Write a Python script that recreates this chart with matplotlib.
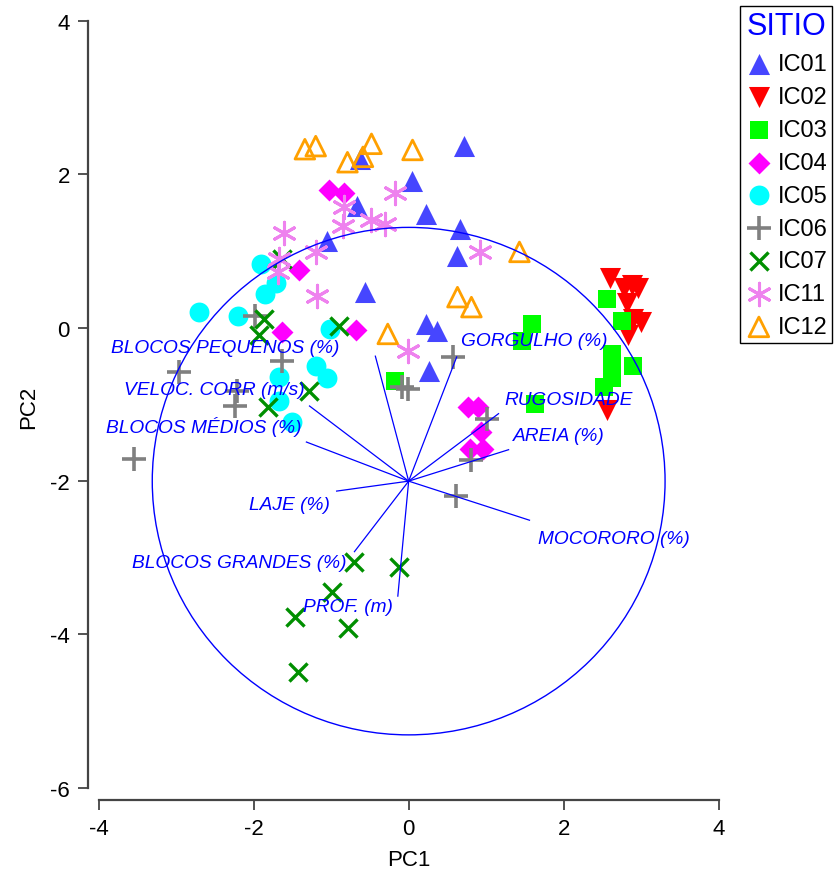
import matplotlib.pyplot as plt
from matplotlib.patches import Circle

plt.rcParams['font.family'] = ['Liberation Sans', 'DejaVu Sans']
plt.rcParams['axes.unicode_minus'] = False

# site scores (PC1, PC2)
ic01_x = [0.72, -0.63, 0.04, -0.67, 0.23, 0.66, -1.06, 0.62, -0.57, 0.23, 0.36, 0.26]
ic01_y = [2.37, 2.20, 1.92, 1.59, 1.49, 1.29, 1.13, 0.94, 0.47, 0.05, -0.04, -0.56]
ic02_x = [2.60, 2.78, 2.88, 2.96, 2.82, 2.89, 3.00, 2.83, 2.56]
ic02_y = [0.65, 0.52, 0.56, 0.52, 0.33, 0.12, 0.07, -0.10, -1.07]
ic03_x = [2.56, 2.76, 1.59, 1.46, 2.62, 2.62, 2.89, 2.62, 2.52, 1.63, -0.17]
ic03_y = [0.38, 0.09, 0.05, -0.17, -0.34, -0.47, -0.50, -0.66, -0.77, -1.00, -0.70]
ic04_x = [-1.03, -0.84, -1.41, -1.64, -0.68, 0.76, 0.89, 0.93, 0.79, 0.96]
ic04_y = [1.80, 1.76, 0.76, -0.05, -0.03, -1.03, -1.03, -1.36, -1.58, -1.58]
ic05_x = [-1.91, -1.71, -1.85, -2.71, -2.20, -1.02, -1.20, -1.06, -1.68, -1.68, -1.50]
ic05_y = [0.83, 0.59, 0.44, 0.21, 0.16, -0.01, -0.50, -0.66, -0.64, -0.95, -1.23]
ic06_x = [-1.98, -1.63, -2.97, -2.21, -2.24, -3.55, 0.57, -0.09, -0.01, 1.01, 0.80, 0.61]
ic06_y = [0.16, -0.43, -0.57, -0.83, -1.02, -1.71, -0.38, -0.77, -0.80, -1.19, -1.73, -2.19]
ic07_x = [-1.64, -1.87, -1.93, -0.90, -1.29, -1.82, -0.70, -0.12, -0.99, -1.47, -0.78, -1.43]
ic07_y = [0.90, 0.12, -0.09, 0.03, -0.82, -1.03, -3.05, -3.12, -3.44, -3.77, -3.91, -4.49]
ic11_x = [-1.61, -1.67, -1.69, -1.20, -1.18, -0.17, -0.83, -0.85, -0.48, -0.31, 0.92, -0.01]
ic11_y = [1.24, 0.90, 0.73, 0.99, 0.42, 1.76, 1.58, 1.33, 1.40, 1.36, 0.99, -0.30]
ic12_x = [-1.34, -1.20, -0.79, -0.59, -0.48, 0.05, 1.43, 0.63, 0.81, -0.27]
ic12_y = [2.33, 2.37, 2.16, 2.23, 2.40, 2.32, 0.99, 0.40, 0.27, -0.08]

# environmental vectors (drawn from the centre of the circle)
centre = (0.0, -2.0)
radius = 3.31
var_names = ["BLOCOS PEQUENOS (%)", "VELOC. CORR (m/s)", "BLOCOS MÉDIOS (%)", "LAJE (%)",
             "BLOCOS GRANDES (%)", "PROF. (m)", "GORGULHO (%)", "RUGOSIDADE",
             "AREIA (%)", "MOCORORO (%)"]
var_x = [-0.43, -1.28, -1.32, -0.93, -0.70, -0.14, 0.62, 1.16, 1.29, 1.56]
var_y = [-0.37, -1.02, -1.49, -2.13, -2.92, -3.50, -0.38, -1.12, -1.59, -2.51]
lab_x = [-0.89, -1.34, -1.38, -1.02, -0.80, -0.21, 0.68, 1.24, 1.34, 1.67]
lab_y = [-0.26, -0.80, -1.28, -2.31, -3.06, -3.64, -0.16, -0.93, -1.41, -2.75]
lab_ha = ["right"] * 6 + ["left"] * 4

fig = plt.figure(figsize=(8.37, 8.79), dpi=100)
ax = fig.add_axes([0.1051, 0.0887, 0.7663, 0.8948])

groups = [
    ("IC01", ic01_x, ic01_y, dict(marker="^", s=230, color="#4646ff", linewidths=0)),
    ("IC02", ic02_x, ic02_y, dict(marker="v", s=230, color="#ff0000", linewidths=0)),
    ("IC03", ic03_x, ic03_y, dict(marker="s", s=185, color="#00ff00", linewidths=0)),
    ("IC04", ic04_x, ic04_y, dict(marker="D", s=125, color="#ff00ff", linewidths=0)),
    ("IC05", ic05_x, ic05_y, dict(marker="o", s=205, color="#00ffff", linewidths=0)),
    ("IC06", ic06_x, ic06_y, dict(marker="+", s=300, color="#808080", linewidths=2.6)),
    ("IC07", ic07_x, ic07_y, dict(marker="x", s=170, color="#008f00", linewidths=2.4)),
    ("IC11", ic11_x, ic11_y, dict(marker=(6, 2, 0), s=260, color="#ee82ee", linewidths=2.2)),
    ("IC12", ic12_x, ic12_y, dict(marker="^", s=200, facecolors="none",
                                  edgecolors="#ffa000", linewidths=2.0)),
]
for name, xs, ys, kw in groups:
    ax.scatter(xs, ys, label=name, zorder=2, **kw)

ax.add_patch(Circle(centre, radius, fill=False, edgecolor="#0000ff", lw=1.0, zorder=3))
for i in range(len(var_names)):
    ax.plot([centre[0], var_x[i]], [centre[1], var_y[i]], color="#0000ff", lw=0.9, zorder=3)
    ax.text(lab_x[i], lab_y[i], var_names[i], ha=lab_ha[i], va="center",
            color="#0000ff", style="italic", fontsize=13.8, zorder=4)

ax.set_xlim(-4.14, 4.14)
ax.set_ylim(-6.16, 4.1)
ax.set_xticks([-4, -2, 0, 2, 4])
ax.set_yticks([-6, -4, -2, 0, 2, 4])
for side in ["top", "right"]:
    ax.spines[side].set_visible(False)
ax.spines["bottom"].set_bounds(-4, 4)
ax.spines["left"].set_bounds(-6, 4)
for side in ["bottom", "left"]:
    ax.spines[side].set_color("#444444")
    ax.spines[side].set_linewidth(1.6)
ax.tick_params(direction="out", length=7, width=1.3, color="#444444",
               labelsize=16, pad=6)
ax.set_xlabel("PC1", fontsize=16, labelpad=7)
ax.set_ylabel("PC2", fontsize=16, labelpad=8)

leg = ax.legend(loc="upper left", bbox_to_anchor=(740 / 837, 1 - 7 / 879),
                bbox_transform=fig.transFigure, borderaxespad=0, fancybox=False,
                edgecolor="black", framealpha=1, fontsize=17, title="SITIO",
                title_fontsize=22, labelspacing=0.46, handletextpad=0.2,
                handlelength=1.2, borderpad=0.2, scatterpoints=1)
leg.get_title().set_color("#0000ff")
leg.get_frame().set_linewidth(1.0)
leg._legend_box.sep = 9

fig.savefig("out.png", dpi=100)
